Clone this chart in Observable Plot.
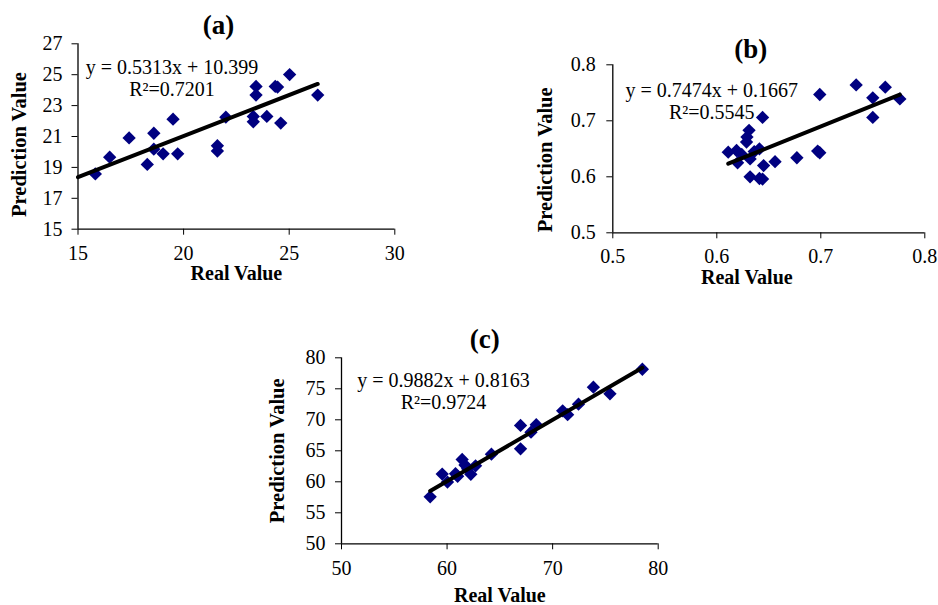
<!DOCTYPE html>
<html><head><meta charset="utf-8">
<script src="https://cdn.jsdelivr.net/npm/d3@7"></script>
<script src="https://cdn.jsdelivr.net/npm/@observablehq/plot@0.6"></script>
<style>
body{margin:0;background:#fff;}
#wrap{position:relative;width:938px;height:605px;overflow:hidden;background:#fff;}
#wrap svg{position:absolute;max-width:none;}
</style></head><body><div id="wrap"></div>
<script>
// ---- Panel (a) ----
const realA = [15.82,16.50,17.42,18.28,18.59,18.59,19.03,19.50,19.72,21.60,21.60,22.00,23.30,23.30,23.43,23.43,23.94,24.34,24.45,24.60,25.02,26.35];
const predA = [18.58,19.66,20.91,19.19,21.21,20.18,19.88,22.12,19.88,20.40,20.06,22.25,22.30,21.95,24.24,23.68,22.30,24.24,24.20,21.87,25.01,23.68];
const xTicksA = [15,20,25,30];
const yTicksA = [15,17,19,21,23,25,27];
const coefA = [0.5313, 10.399];
const trendXA = [15, 26.35];
const eqA = ["y = 0.5313x + 10.399", "R²=0.7201"];

// ---- Panel (b) ----
const realB = [0.611,0.619,0.620,0.624,0.629,0.6286,0.631,0.632,0.632,0.636,0.641,0.644,0.641,0.644,0.645,0.656,0.677,0.697,0.699,0.699,0.734,0.750,0.750,0.762,0.776];
const predB = [0.644,0.647,0.625,0.640,0.671,0.662,0.683,0.632,0.600,0.645,0.650,0.706,0.597,0.596,0.620,0.627,0.634,0.646,0.643,0.747,0.764,0.741,0.706,0.760,0.739];
const xTicksB = [0.5,0.6,0.7,0.8];
const yTicksB = [0.5,0.6,0.7,0.8];
const coefB = [0.7474, 0.1667];
const trendXB = [0.611, 0.776];
const eqB = ["y = 0.7474x + 0.1667", "R²=0.5545"];

// ---- Panel (c) ----
const realC = [58.40,59.54,60.04,60.80,61.00,61.43,61.70,61.95,62.25,62.70,64.20,66.96,66.96,67.95,68.45,70.95,71.42,72.45,73.86,75.43,78.50];
const predC = [57.58,61.25,59.95,61.30,60.90,63.60,62.70,62.10,61.20,62.58,64.45,69.09,65.32,68.00,69.20,71.45,70.83,72.52,75.26,74.19,78.15];
const xTicksC = [50,60,70,80];
const yTicksC = [50,55,60,65,70,75,80];
const coefC = [0.9882, 0.8163];
const trendXC = [58.4, 78.5];
const eqC = ["y = 0.9882x + 0.8163", "R²=0.9724"];

const titles = ["(a)", "(b)", "(c)"];
const xLabel = "Real Value";
const yLabel = "Prediction Value";

const serif = "Liberation Serif";
const wrap = document.getElementById("wrap");

function panel(o) {
  const data = o.real.map((r, i) => ({real: r, pred: o.pred[i]}));
  const trend = o.trendX.map(x => ({real: x, pred: o.coef[0] * x + o.coef[1]}));
  const t = {fontFamily: serif, fill: "#000"};
  const fig = Plot.plot({
    width: o.width, height: o.height,
    marginLeft: o.m[0], marginRight: o.m[1], marginTop: o.m[2], marginBottom: o.m[3],
    style: {fontFamily: serif, fontSize: "20px", color: "#000", background: "transparent", overflow: "visible"},
    x: {domain: [o.xTicks[0], o.xTicks[o.xTicks.length - 1]], label: null},
    y: {domain: [o.yTicks[0], o.yTicks[o.yTicks.length - 1]], label: null},
    marks: [
      Plot.axisX({ticks: o.xTicks, tickSize: 6, tickPadding: o.tp[1], label: null, tickFormat: d => String(d), fontFamily: serif, fontSize: 20, fontVariant: "normal"}),
      Plot.axisY({ticks: o.yTicks, tickSize: 6, tickPadding: o.tp[0], label: null, tickFormat: d => String(d), fontFamily: serif, fontSize: 20, fontVariant: "normal"}),
      Plot.ruleX([o.xTicks[0]], {stroke: "#000", strokeWidth: 1.3}),
      Plot.ruleY([o.yTicks[0]], {stroke: "#000", strokeWidth: 1.3}),
      Plot.dot(data, {x: "real", y: "pred", symbol: "diamond2", r: 6, fill: "#000080", stroke: "none"}),
      Plot.line(trend, {x: "real", y: "pred", stroke: "#000", strokeWidth: 4}),
      Plot.text([o.title], {...t, text: d => d, frameAnchor: "top", textAnchor: "middle", dx: o.titlePos[0], dy: o.titlePos[1], lineAnchor: "bottom", fontSize: 27, fontWeight: "bold"}),
      Plot.text([xLabel], {...t, text: d => d, frameAnchor: "bottom", textAnchor: "middle", dx: o.xlPos[0], dy: o.xlPos[1], lineAnchor: "bottom", fontSize: 20, fontWeight: "bold"}),
      Plot.text([yLabel], {...t, text: d => d, frameAnchor: "left", textAnchor: "middle", dx: o.ylPos[0], dy: o.ylPos[1], lineAnchor: "bottom", rotate: -90, fontSize: 20.5, fontWeight: "bold"}),
      Plot.text([o.eq[0]], {...t, text: d => d, frameAnchor: "top-left", dx: o.eqPos[0], dy: o.eqPos[1], lineAnchor: "bottom", textAnchor: "middle", fontSize: 20}),
      Plot.text([o.eq[1]], {...t, text: d => d, frameAnchor: "top-left", dx: o.eqPos[0], dy: o.eqPos[2], lineAnchor: "bottom", textAnchor: "middle", fontSize: 20})
    ]
  });
  fig.style.left = o.left + "px";
  fig.style.top = o.top + "px";
  wrap.appendChild(fig);
}

panel({
  real: realA, pred: predA, xTicks: xTicksA, yTicks: yTicksA, coef: coefA, trendX: trendXA, eq: eqA, title: titles[0],
  left: 0, top: 0, width: 420, height: 300, m: [77.5, 25.7, 43.3, 71.3], tp: [9.5, 11],
  titlePos: [-18, -10], xlPos: [0, 51], ylPos: [-52.5, 8], eqPos: [94, 30, 52]
});
panel({
  real: realB, pred: predB, xTicks: xTicksB, yTicks: yTicksB, coef: coefB, trendX: trendXB, eq: eqB, title: titles[1],
  left: 520, top: 0, width: 418, height: 300, m: [92.3, 13.7, 64.3, 67.7], tp: [11, 10],
  titlePos: [-18, -7], xlPos: [-22, 51], ylPos: [-61, 11], eqPos: [99, 31.7, 54]
});
panel({
  real: realC, pred: predC, xTicks: xTicksC, yTicks: yTicksC, coef: coefC, trendX: trendXC, eq: eqC, title: titles[2],
  left: 260, top: 300, width: 440, height: 305, m: [81, 42.3, 57.3, 61.7], tp: [10, 11],
  titlePos: [-15, -10], xlPos: [0, 58], ylPos: [-58, 0], eqPos: [102, 29.4, 51]
});
</script></body></html>
